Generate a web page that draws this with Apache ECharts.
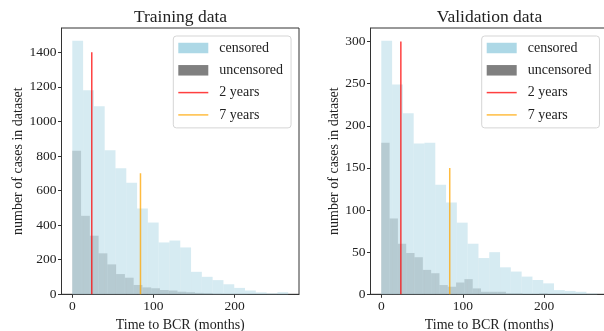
<!DOCTYPE html>
<html>
<head>
<meta charset="utf-8">
<script src="https://cdn.jsdelivr.net/npm/echarts@6/dist/echarts.min.js"></script>
<style>
  html, body { margin: 0; padding: 0; background: #fff; }
  #chart { width: 604px; height: 331px; }
</style>
</head>
<body>
<div id="chart"></div>
<script>
/* histogram counts (20 bins each) */
const trainCensored   = [1467, 1180, 1088, 833, 729, 645, 497, 415, 300, 311, 271, 130, 101, 82, 58, 37, 22, 11, 5, 12];
const trainUncensored = [830, 454, 339, 237, 173, 117, 96, 54, 40, 35, 25, 22, 15, 12, 8, 6, 3, 1, 1, 1];
const validCensored   = [301, 249, 215, 179, 180, 130, 109, 85, 60, 43, 50, 32, 27, 21, 17, 13, 5, 4, 3, 1];
const validUncensored = [180, 90, 60, 49, 44, 29, 25, 11, 9, 14, 18, 7, 3, 3, 3, 1, 1, 0, 0, 1];

/* bin widths in months */
const trainCensoredBin   = 13.3;
const trainUncensoredBin = 10.8;
const validCensoredBin   = 13.25;
const validUncensoredBin = 10.2;

/* marker lines: months and heights */
const markerMonths  = [24, 84];
const markerNames   = ['2 years', '7 years'];
const trainMarkerTop = [1400, 700];
const validMarkerTop = [300, 150];

const xTicks      = [0, 100, 200];
const trainYTicks = [0, 200, 400, 600, 800, 1000, 1200, 1400];
const validYTicks = [0, 50, 100, 150, 200, 250, 300];

const FONT = '"Liberation Serif", "DejaVu Serif", serif';
const TXT = '#222';
const RED = 'rgba(255,0,0,0.75)';
const ORANGE = 'rgba(255,165,0,0.75)';

const chart = echarts.init(document.getElementById('chart'), null, { renderer: 'canvas' });

/* histogram as custom rects, positioned through the axes */
function hist(name, counts, width, idx, fill, legendColor) {
  return {
    type: 'custom', name,
    xAxisIndex: idx, yAxisIndex: idx,
    itemStyle: { color: legendColor },
    encode: { x: [0, 1], y: 2 },
    data: counts.map((c, i) => [i * width, (i + 1) * width, c]),
    renderItem: (params, api) => {
      const p0 = api.coord([api.value(0), api.value(2)]);
      const p1 = api.coord([api.value(1), 0]);
      return {
        type: 'rect',
        shape: { x: p0[0], y: p0[1], width: p1[0] - p0[0], height: p1[1] - p0[1] },
        style: { fill },
      };
    },
  };
}

function marker(i, idx, top, color) {
  return {
    type: 'line', name: markerNames[i],
    xAxisIndex: idx, yAxisIndex: idx,
    symbol: 'none', silent: true, z: 5,
    lineStyle: { color, width: 1.5 },
    itemStyle: { color },
    data: [[markerMonths[i], 0], [markerMonths[i], top[i]]],
  };
}

function xAxis(idx, binW) {
  const span = 20 * binW;
  return {
    type: 'value', gridIndex: idx,
    min: -0.05 * span, max: span * 1.05,
    name: 'Time to BCR (months)', nameLocation: 'middle', nameGap: 20,
    nameTextStyle: { fontFamily: FONT, fontSize: 14, color: TXT },
    axisLine: { show: true, onZero: false, lineStyle: { color: '#333', width: 1 } },
    axisTick: { show: true, customValues: xTicks, length: 3.5, lineStyle: { color: '#333' } },
    axisLabel: { customValues: xTicks, fontFamily: FONT, fontSize: 13.5, color: TXT, margin: 5 },
    splitLine: { show: false },
  };
}

function yAxis(idx, maxCount, ticks, gap) {
  return {
    type: 'value', gridIndex: idx,
    min: 0, max: maxCount * 1.05,
    name: 'number of cases in dataset', nameLocation: 'middle', nameGap: gap,
    nameTextStyle: { fontFamily: FONT, fontSize: 14, color: TXT },
    axisLine: { show: true, onZero: false, lineStyle: { color: '#333', width: 1 } },
    axisTick: { show: true, customValues: ticks, length: 3.5, lineStyle: { color: '#333' } },
    axisLabel: { customValues: ticks, formatter: (v) => String(v), fontFamily: FONT, fontSize: 13.5, color: TXT, margin: 5 },
    splitLine: { show: false },
  };
}

const LINE_ICON = 'path://M0,0H30V1.5H0Z';

function legend(left) {
  return {
    orient: 'vertical', left, top: 36,
    itemWidth: 30, itemHeight: 10.5, itemGap: 6.3,
    padding: [4, 8, 5, 5],
    symbolKeepAspect: true,
    backgroundColor: 'rgba(255,255,255,0.8)',
    borderColor: '#d5d5d5', borderWidth: 1, borderRadius: 3,
    selectedMode: false,
    textStyle: { fontFamily: FONT, fontSize: 14, color: TXT, lineHeight: 16, padding: [0, 0, 0, 6] },
    data: [
      { name: 'censored', icon: 'rect', itemStyle: { color: '#add8e6', opacity: 1 } },
      { name: 'uncensored', icon: 'rect', itemStyle: { color: '#808080', opacity: 1 } },
      { name: '2 years', icon: LINE_ICON, itemStyle: { color: RED } },
      { name: '7 years', icon: LINE_ICON, itemStyle: { color: ORANGE } },
    ],
  };
}

const BLUE = 'rgba(173,216,230,0.5)';
const GREY = 'rgba(128,128,128,0.5)';

chart.setOption({
  animation: false,
  grid: [
    { left: 61.5, top: 28, width: 237.5, height: 266.3, show: true, borderColor: '#333', borderWidth: 1, outerBoundsMode: 'none', containLabel: false },
    { left: 370.5, top: 28, width: 237.5, height: 266.3, show: true, borderColor: '#333', borderWidth: 1, outerBoundsMode: 'none', containLabel: false },
  ],
  xAxis: [xAxis(0, trainCensoredBin), xAxis(1, validCensoredBin)],
  yAxis: [
    yAxis(0, Math.max(...trainCensored), trainYTicks, 36),
    yAxis(1, Math.max(...validCensored), validYTicks, 29),
  ],
  legend: [legend(173.3), legend(481.7)],
  graphic: [
    { type: 'text', x: 180.5, y: 17, style: { text: 'Training data', font: '17.5px ' + FONT, fill: TXT, align: 'center', verticalAlign: 'middle' } },
    { type: 'text', x: 489.5, y: 17, style: { text: 'Validation data', font: '17.5px ' + FONT, fill: TXT, align: 'center', verticalAlign: 'middle' } },
  ],
  series: [
    hist('uncensored', trainUncensored, trainUncensoredBin, 0, GREY, '#808080'),
    hist('censored', trainCensored, trainCensoredBin, 0, BLUE, '#add8e6'),
    marker(0, 0, trainMarkerTop, RED),
    marker(1, 0, trainMarkerTop, ORANGE),
    hist('uncensored', validUncensored, validUncensoredBin, 1, GREY, '#808080'),
    hist('censored', validCensored, validCensoredBin, 1, BLUE, '#add8e6'),
    marker(0, 1, validMarkerTop, RED),
    marker(1, 1, validMarkerTop, ORANGE),
  ],
});
</script>
</body>
</html>
